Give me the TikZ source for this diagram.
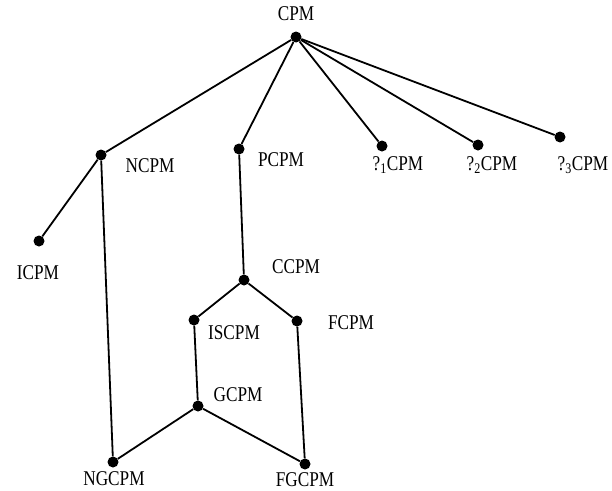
\documentclass[tikz,border=0pt]{standalone}
\usepackage{fontspec}
\setmainfont{Liberation Serif}[FakeStretch=0.82]
\usepackage{tikz}
\usetikzlibrary{positioning}

\begin{document}
\begin{tikzpicture}[% styles for the whole lattice
			x=1pt,y=-1pt,
			every node/.style={
				inner sep=1pt,
				font=\fontsize{21}{23}\selectfont	% label text
			},
			dot/.style={circle,fill=black,inner sep=0pt,minimum size=11pt},
			every edge/.style={draw,line width=1.8pt}
		]
		\useasboundingbox (0,0) rectangle (612,490);
		% the points
		\node[dot](CPM) at (296,37) {};
		\node[dot](NCPM) at (101,155) {};
		\node[dot](ICPM) at (39,241) {};
		\node[dot](PCPM) at (239,149) {};
		\node[dot](QA) at (382,146) {};
		\node[dot](QB) at (478,145) {};
		\node[dot](QC) at (560,137) {};
		\node[dot](CCPM) at (244,280) {};
		\node[dot](ISCPM) at (194,320) {};
		\node[dot](FCPM) at (297,321) {};
		\node[dot](GCPM) at (198,406) {};
		\node[dot](NGCPM) at (113,462) {};
		\node[dot](FGCPM) at (305,464) {};
		% the names
		\node(T1) at (296,14) {CPM};
		\node(T2) at (150,166) {NCPM};
		\node(T3) at (38,273) {ICPM};
		\node(T4) at (281,160) {PCPM};
		\node(T5) at (398,165) {?\textsubscript{1}CPM};
		\node(T6) at (492,165) {?\textsubscript{2}CPM};
		\node(T7) at (583,165) {?\textsubscript{3}CPM};
		\node(T8) at (296,267) {CCPM};
		\node(T9) at (234,333) {ISCPM};
		\node(T10) at (351,323) {FCPM};
		\node(T11) at (238,395) {GCPM};
		\node(T12) at (114,479) {NGCPM};
		\node(T13) at (305,480) {FGCPM};
		\path
		(CPM)edge (NCPM)
		(CPM)edge (PCPM)
		(CPM)edge (QA)
		(CPM)edge (QB)
		(CPM)edge (QC)
		(NCPM)edge (ICPM)
		(NCPM)edge (NGCPM)
		(PCPM)edge (CCPM)
		(CCPM)edge (ISCPM)
		(CCPM)edge (FCPM)
		(ISCPM)edge (GCPM)
		(FCPM)edge (FGCPM)
		(GCPM)edge (NGCPM)
		(GCPM)edge (FGCPM)
		;
	\end{tikzpicture}
\end{document}
